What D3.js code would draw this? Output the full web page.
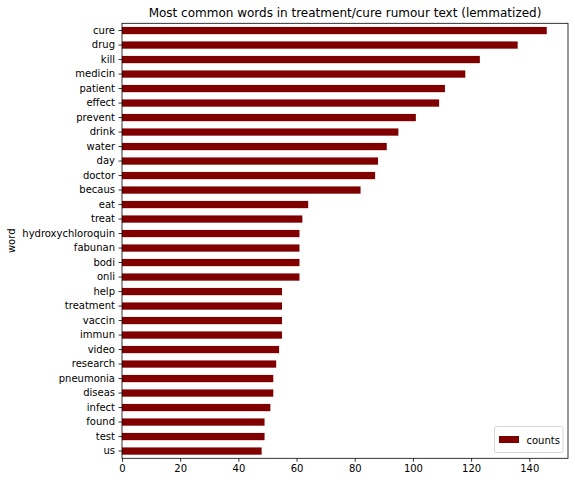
<!DOCTYPE html>
<html>
<head>
<meta charset="UTF-8">
<title>Most common words</title>
<script src="https://d3js.org/d3.v7.min.js"></script>
<style>
body { margin: 0; background: #fff; }
svg text { font-family: "DejaVu Sans", sans-serif; fill: #000; }
</style>
</head>
<body>
<div id="chart"></div>
<script>
// words, top of chart first
var words = ["cure", "drug", "kill", "medicin", "patient", "effect", "prevent", "drink",
  "water", "day", "doctor", "becaus", "eat", "treat", "hydroxychloroquin", "fabunan",
  "bodi", "onli", "help", "treatment", "vaccin", "immun", "video", "research",
  "pneumonia", "diseas", "infect", "found", "test", "us"];
var counts = [146, 136, 123, 118, 111, 109, 101, 95,
  91, 88, 87, 82, 64, 62, 61, 61,
  61, 61, 55, 55, 55, 55, 54, 53,
  52, 52, 51, 49, 49, 48];
var xTicks = [0, 20, 40, 60, 80, 100, 120, 140];

var W = 575, H = 482;
// plot area edges (px)
var pLeft = 122, pRight = 568, pTop = 23.3, pBottom = 458.3;

var svg = d3.select("#chart").append("svg")
  .attr("width", W).attr("height", H);

var x = d3.scaleLinear().domain([0, d3.max(counts) * 1.05]).range([pLeft, pRight]);
var y = d3.scaleBand().domain(words).range([pTop, pBottom]).paddingInner(0.5).paddingOuter(0.25);

// bars
svg.selectAll("rect.bar")
  .data(words)
  .enter()
  .append("rect")
  .attr("class", "bar")
  .attr("x", x(0))
  .attr("y", function(d){ return y(d); })
  .attr("width", function(d, i){ return x(counts[i]) - x(0); })
  .attr("height", y.bandwidth())
  .style("fill", "#800000");

// axes
var xAxis = svg.append("g")
  .attr("transform", "translate(0," + pBottom + ")")
  .call(d3.axisBottom(x).tickValues(xTicks).tickSize(3.5).tickPadding(3.5));
var yAxis = svg.append("g")
  .attr("transform", "translate(" + pLeft + ",0)")
  .call(d3.axisLeft(y).tickSize(3.5).tickPadding(3.5));

[xAxis, yAxis].forEach(function(g){
  g.select(".domain").remove();
  g.selectAll("text").style("font-size", "10px").style("font-family", "DejaVu Sans, sans-serif");
  g.selectAll("line").attr("stroke", "#000").attr("stroke-width", 0.8);
});

// frame
svg.append("rect")
  .attr("x", pLeft).attr("y", pTop)
  .attr("width", pRight - pLeft).attr("height", pBottom - pTop)
  .attr("fill", "none").attr("stroke", "#000").attr("stroke-width", 0.8);

// title
svg.append("text")
  .attr("x", (pLeft + pRight) / 2).attr("y", pTop - 6)
  .attr("text-anchor", "middle")
  .style("font-size", "12px")
  .text("Most common words in treatment/cure rumour text (lemmatized)");

// y label
svg.append("text")
  .attr("transform", "translate(15," + ((pTop + pBottom) / 2) + ") rotate(-90)")
  .attr("text-anchor", "middle")
  .style("font-size", "10px")
  .text("word");

// legend
var lg = svg.append("g").attr("transform", "translate(494.5,426.5)");
lg.append("rect")
  .attr("width", 68.5).attr("height", 26).attr("rx", 2)
  .attr("fill", "#fff").attr("fill-opacity", 0.8)
  .attr("stroke", "#ccc").attr("stroke-width", 0.8);
lg.append("rect")
  .attr("x", 4.5).attr("y", 9.5).attr("width", 20).attr("height", 7)
  .style("fill", "#800000");
lg.append("text")
  .attr("x", 32).attr("y", 17)
  .style("font-size", "10px")
  .text("counts");
</script>
</body>
</html>
